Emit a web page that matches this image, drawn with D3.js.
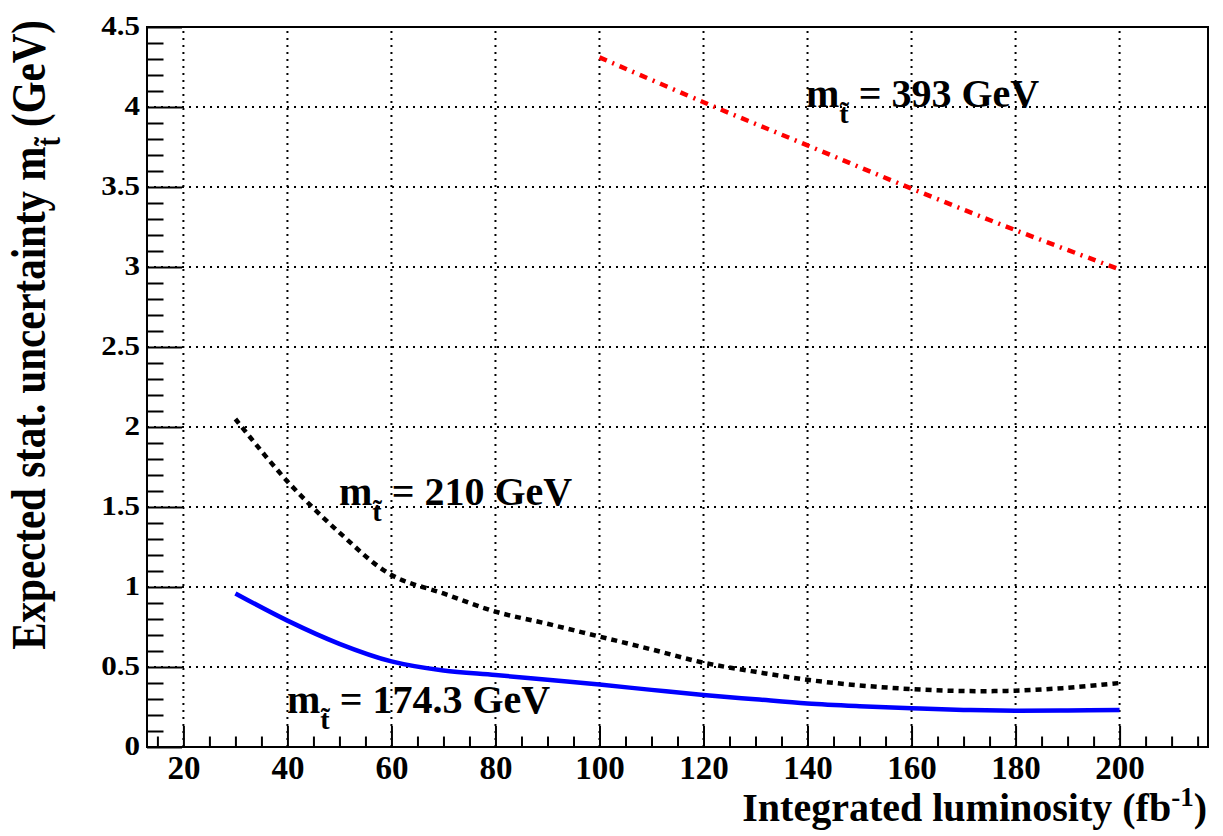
<!DOCTYPE html>
<html>
<head>
<meta charset="utf-8">
<script src="https://cdn.jsdelivr.net/npm/d3@7/dist/d3.min.js"></script>
<style>
  body { margin: 0; background: #fff; }
</style>
</head>
<body>
<div id="chart"></div>
<script>
// luminosity points (fb^-1)
const lumi = [30, 40, 50, 60, 70, 80, 90, 100, 110, 120, 130, 140, 150, 160, 170, 180, 190, 200];
// stat. uncertainty, m = 174.3 GeV (blue, solid)
const sig174 = [0.96, 0.79, 0.645, 0.535, 0.478, 0.45, 0.42, 0.39, 0.357, 0.325, 0.298, 0.272, 0.255, 0.242, 0.232, 0.227, 0.228, 0.231];
// m = 210 GeV (black, dashed)
const sig210 = [2.05, 1.66, 1.34, 1.075, 0.96, 0.846, 0.77, 0.69, 0.61, 0.527, 0.47, 0.42, 0.385, 0.362, 0.35, 0.352, 0.37, 0.40];
// m = 393 GeV (red, dash-dot)
const lumi393 = [100, 120, 140, 160, 180, 200];
const sig393 = [4.31, 4.03, 3.76, 3.49, 3.23, 2.985];

const xMajor = [20, 40, 60, 80, 100, 120, 140, 160, 180, 200];
const yMajor = [0, 0.5, 1, 1.5, 2, 2.5, 3, 3.5, 4, 4.5];
const yGrid = [0.5, 1, 1.5, 2, 2.5, 3, 3.5, 4];

const FONT = '"Liberation Serif", "Times New Roman", serif';
const W = 1223, H = 836;
const margin = { top: 27, right: 15, bottom: 89, left: 147 };

const svg = d3.select('#chart').append('svg')
  .attr('width', W).attr('height', H)
  .style('font-family', FONT).style('font-weight', 'bold');
svg.append('rect').attr('width', W).attr('height', H).attr('fill', '#fff');

const x = d3.scaleLinear().domain([13, 217]).range([margin.left, W - margin.right]);
const y = d3.scaleLinear().domain([0, 4.5]).range([H - margin.bottom, margin.top]);

// dotted grid
const grid = svg.append('g').attr('stroke', '#000').attr('stroke-width', 2).attr('stroke-dasharray', '2,5');
grid.selectAll('.gx').data(xMajor).enter().append('line')
  .attr('x1', d => x(d)).attr('x2', d => x(d))
  .attr('y1', y(0)).attr('y2', y(4.5));
grid.selectAll('.gy').data(yGrid).enter().append('line')
  .attr('x1', x(13)).attr('x2', x(217))
  .attr('y1', d => y(d)).attr('y2', d => y(d));

// minor ticks
const xMinor = d3.range(15, 216, 5).filter(v => v % 20 !== 0);
const yMinor = d3.range(0, 46).map(v => v / 10).filter(v => Math.round(v * 10) % 5 !== 0);

svg.append('g').attr('transform', `translate(0,${y(0)})`)
  .call(d3.axisBottom(x).tickValues(xMinor).tickSizeInner(-10.5).tickSizeOuter(0).tickFormat(''))
  .call(g => g.select('.domain').remove())
  .selectAll('line').attr('stroke-width', 2);
svg.append('g').attr('transform', `translate(${x(13)},0)`)
  .call(d3.axisLeft(y).tickValues(yMinor).tickSizeInner(-16.5).tickSizeOuter(0).tickFormat(''))
  .call(g => g.select('.domain').remove())
  .selectAll('line').attr('stroke-width', 2);

// major x axis
const gx = svg.append('g').attr('transform', `translate(0,${y(0)})`)
  .call(d3.axisBottom(x).tickValues(xMajor).tickSizeInner(-21).tickSizeOuter(0).tickPadding(8.5).tickFormat(d3.format('d')));
gx.attr('font-family', null).attr('font-size', null);
gx.select('.domain').remove();
gx.selectAll('line').attr('stroke-width', 2);
gx.selectAll('text').attr('fill', '#000')
  .style('font-family', FONT).style('font-weight', 'bold').style('font-size', '33px');

// major y axis
const gy = svg.append('g').attr('transform', `translate(${x(13)},0)`)
  .call(d3.axisLeft(y).tickValues(yMajor).tickSizeInner(-35).tickSizeOuter(0).tickFormat(d => d3.format('')(d)));
gy.attr('font-family', null).attr('font-size', null);
gy.select('.domain').remove();
gy.selectAll('line').attr('stroke-width', 2);
gy.selectAll('text').attr('fill', '#000')
  .attr('x', 0).attr('dy', '0.32em')
  .attr('transform', 'translate(-7,-1) scale(1.15,1)')
  .style('font-family', FONT).style('font-weight', 'bold').style('font-size', '27px');

// frame
svg.append('rect')
  .attr('x', x(13)).attr('y', y(4.5))
  .attr('width', x(217) - x(13)).attr('height', y(0) - y(4.5))
  .attr('fill', 'none').attr('stroke', '#000').attr('stroke-width', 2);

// curves
const line = d3.line().x(d => x(d[0])).y(d => y(d[1])).curve(d3.curveCatmullRom);

svg.append('path').datum(d3.zip(lumi, sig174))
  .attr('d', line).attr('fill', 'none').attr('stroke', '#0000ff').attr('stroke-width', 4.5);
svg.append('path').datum(d3.zip(lumi, sig210))
  .attr('d', line).attr('fill', 'none').attr('stroke', '#000').attr('stroke-width', 4.5)
  .attr('stroke-dasharray', '6,5');
svg.append('path').datum(d3.zip(lumi393, sig393))
  .attr('d', line).attr('fill', 'none').attr('stroke', '#ff0000').attr('stroke-width', 4.5)
  .attr('stroke-dasharray', '8,6,2,6');

// curve labels
function massLabel(px, py, mass) {
  const t = svg.append('text').attr('x', px).attr('y', py)
    .style('font-family', FONT).style('font-weight', 'bold').style('font-size', '40px');
  t.append('tspan').text('m');
  t.append('tspan').style('font-size', '28px').attr('dy', 16).text('t\u0303');
  t.append('tspan').attr('dy', -16).text(' = ' + mass + ' GeV');
}
massLabel(806, 107, '393');
massLabel(339, 505, '210');
massLabel(287, 713, '174.3');

// axis titles
const xt = svg.append('text').attr('x', 1207).attr('y', 821)
  .attr('text-anchor', 'end')
  .style('font-family', FONT).style('font-weight', 'bold').style('font-size', '40px');
xt.append('tspan').text('Integrated luminosity (fb');
xt.append('tspan').style('font-size', '27px').attr('dy', -15).text('-1');
xt.append('tspan').attr('dy', 15).text(')');

const yt = svg.append('text')
  .attr('transform', 'translate(45,20) rotate(-90) scale(1,1.17)')
  .attr('text-anchor', 'end')
  .style('font-family', FONT).style('font-weight', 'bold').style('font-size', '41px');
yt.append('tspan').text('Expected stat. uncertainty m');
yt.append('tspan').style('font-size', '28px').attr('dy', 13).text('t\u0303');
yt.append('tspan').attr('dy', -13).text(' (GeV)');
</script>
</body>
</html>
